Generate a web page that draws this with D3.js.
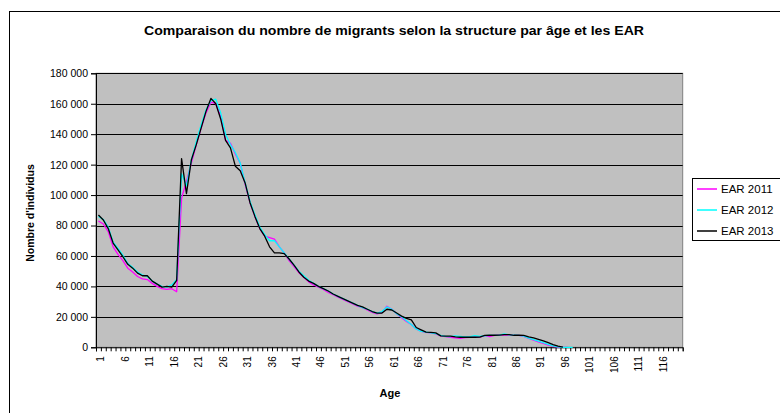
<!DOCTYPE html>
<html>
<head>
<meta charset="utf-8">
<script src="https://cdn.jsdelivr.net/npm/d3@7"></script>
<style>
  body { margin: 0; background: #fff; }
  svg { display: block; font-family: "Liberation Sans", Arial, sans-serif; }
</style>
</head>
<body>
<div id="chart"></div>
<script>
// ages 1..120 on the category axis
let ages = d3.range(1, 121);
let xLabels = d3.range(1, 117, 5);
let yTicks = d3.range(0, 180001, 20000);
let seriesNames = ["EAR 2011", "EAR 2012", "EAR 2013"];
let seriesColors = ["#ff00ff", "#00ffff", "#000000"];

// values, index 0 = age 1
let ear2011 = [83000, 81000, 76000, 66000, 61000, 57000, 52000, 49500, 46500, 45000,
    44500, 42000, 40000, 38500, 38000, 38500, 36500, 98000, 109000, 121000,
    133000, 144000, 154000, 161000, 160000, 152000, 136000, 134000, 127000, 121000,
    107000, 95000, 86000, 78000, 73000, 72000, 71000, 66000, 62000, 57000,
    53000, 49000, 46000, 43000, 41000, 39500, 38000, 36000, 34500, 33000,
    31500, 30000, 28500, 27000, 26000, 24500, 23000, 22000, 23000, 27000,
    25000, 22000, 19500, 17000, 15000, 12000, 10500, 9800, 9500, 8800,
    7500, 7000, 6600, 6200, 5800, 6400, 6600, 6900, 6700, 7600,
    7000, 7800, 8000, 8000, 8100, 7800, 7800, 7200, 5800, 4700,
    3600, 2500, 1500, 700, 200, 0, 0];
let ear2012 = [86000, 84000, 79000, 69000, 65000, 60500, 55000, 52500, 49500, 47500,
    46500, 43500, 41500, 40000, 39500, 41000, 44500, 114000, 106000, 123000,
    135000, 146000, 156000, 162000, 163000, 154000, 140000, 133000, 128000, 121000,
    108000, 96000, 87000, 79000, 74000, 70000, 70000, 66000, 62000, 58000,
    54000, 50000, 47000, 44000, 42000, 40000, 38500, 37000, 35000, 33500,
    32000, 30500, 29000, 27500, 26000, 25000, 23500, 22500, 23500, 26500,
    25000, 22000, 20000, 17500, 15000, 12000, 10500, 10000, 9500, 9000,
    7800, 7200, 7000, 7500, 7200, 6800, 7000, 7600, 7200, 7600,
    7800, 7800, 8000, 8800, 8200, 8000, 7800, 7300, 6000, 5000,
    4000, 3000, 2000, 1000, 300, 0, 0, 0];
let ear2013 = [86900, 83600, 78000, 68500, 64000, 59500, 54500, 52000, 48700, 47000,
    47000, 43500, 41500, 39500, 40000, 39500, 44000, 124000, 101000, 123000,
    133000, 144000, 155000, 163500, 160000, 150000, 136000, 131000, 119000, 116000,
    108000, 95000, 86000, 78000, 73000, 66000, 62000, 62000, 61500, 58000,
    54000, 49500, 46000, 43500, 42000, 40000, 38500, 37000, 35000, 33500,
    32000, 30500, 29000, 27500, 26500, 25000, 23500, 22500, 22500, 25000,
    24500, 22500, 20500, 19000, 18000, 13000, 11500, 10000, 9800, 9500,
    7500, 7400, 7300, 6800, 6600, 6600, 6600, 6600, 6700, 7800,
    7900, 7900, 8000, 8300, 8300, 7900, 7900, 7800, 6800, 6200,
    5200, 4200, 3000, 1800, 700, 100];

let allSeries = [ear2011, ear2012, ear2013];

let width = 780, height = 413;
let plot = {left: 96, right: 682.7, top: 73.3, bottom: 347.3};

let svg = d3.select("#chart").append("svg")
    .attr("width", width)
    .attr("height", height);

// outer chart frame
svg.append("rect")
    .attr("x", 9.5).attr("y", 11.5)
    .attr("width", 820).attr("height", 460)
    .attr("fill", "#fff")
    .attr("stroke", "#000");

let x = d3.scaleBand()
    .domain(ages)
    .range([plot.left, plot.right])
    .paddingInner(0).paddingOuter(0);

let xEdges = d3.scaleLinear()
    .domain([0.5, 120.5])
    .range([plot.left, plot.right]);

let y = d3.scaleLinear()
    .domain([0, 180000])
    .range([plot.bottom, plot.top]);

// plot background
svg.append("rect")
    .attr("x", plot.left).attr("y", plot.top)
    .attr("width", plot.right - plot.left)
    .attr("height", plot.bottom - plot.top)
    .attr("fill", "#c0c0c0")
    .attr("stroke", "#808080");

// gridlines
svg.append("g").selectAll("line")
    .data(yTicks.slice(1))
    .enter()
    .append("line")
    .attr("x1", plot.left).attr("x2", plot.right)
    .attr("y1", d => Math.round(y(d)) + 0.5)
    .attr("y2", d => Math.round(y(d)) + 0.5)
    .attr("stroke", "#000")
    .attr("stroke-width", 1);

let fmt = d => d3.format(",")(d).replace(/,/g, " ");

// y axis
let gy = svg.append("g")
    .attr("transform", "translate(" + plot.left + ",0)")
    .call(d3.axisLeft(y).tickValues(yTicks).tickSize(5).tickPadding(3).tickFormat(fmt));
gy.select(".domain").attr("stroke", "#000");
gy.selectAll("text").attr("font-size", "10.5px").attr("fill", "#000")
    .attr("font-family", "'Liberation Sans', Arial, sans-serif");

// x axis tick marks on category edges
let gx = svg.append("g")
    .attr("transform", "translate(0," + plot.bottom + ")")
    .call(d3.axisBottom(xEdges).tickValues(d3.range(0.5, 121, 1)).tickSize(4).tickFormat(""));
gx.select(".domain").attr("stroke", "#000");

// x labels, every 5 ages, rotated
let gxl = svg.append("g")
    .attr("transform", "translate(" + (x.bandwidth() / 2) + "," + plot.bottom + ")")
    .call(d3.axisBottom(x).tickValues(xLabels).tickSize(0).tickPadding(0));
gxl.select(".domain").remove();
gxl.selectAll("text")
    .attr("font-size", "10px")
    .attr("font-family", "'Liberation Sans', Arial, sans-serif")
    .attr("fill", "#000")
    .attr("text-anchor", "end")
    .attr("transform", "rotate(-90)")
    .attr("x", -9)
    .attr("y", 0)
    .attr("dy", "0.35em");

// lines
let line = d3.line()
    .x((d, i) => x(ages[i]) + x.bandwidth() / 2)
    .y(d => y(d));

svg.append("g").selectAll("path")
    .data(allSeries)
    .enter()
    .append("path")
    .attr("d", d => line(d))
    .attr("fill", "none")
    .attr("stroke", (d, i) => seriesColors[i])
    .attr("stroke-width", 1.3)
    .attr("stroke-linejoin", "round");

// title
svg.append("text")
    .attr("x", 394).attr("y", 35)
    .attr("text-anchor", "middle")
    .attr("font-size", "13px")
    .attr("font-weight", "bold")
    .attr("textLength", 500)
    .attr("lengthAdjust", "spacingAndGlyphs")
    .text("Comparaison du nombre de migrants selon la structure par âge et les EAR");

// axis titles
svg.append("text")
    .attr("transform", "translate(34,213) rotate(-90)")
    .attr("text-anchor", "middle")
    .attr("font-size", "10.5px")
    .attr("font-weight", "bold")
    .text("Nombre d'individus");

svg.append("text")
    .attr("x", 390).attr("y", 397)
    .attr("text-anchor", "middle")
    .attr("font-size", "11px")
    .attr("font-weight", "bold")
    .text("Age");

// legend
let legend = svg.append("g").attr("transform", "translate(692,178)");
legend.append("rect")
    .attr("x", 0.5).attr("y", 0.5)
    .attr("width", 120).attr("height", 62)
    .attr("fill", "#fff")
    .attr("stroke", "#000");

let items = legend.selectAll("g.item")
    .data(seriesNames)
    .enter()
    .append("g")
    .attr("class", "item")
    .attr("transform", (d, i) => "translate(0," + (11 + i * 21) + ")");
items.append("line")
    .attr("x1", 5).attr("x2", 25)
    .attr("y1", 0).attr("y2", 0)
    .attr("stroke", (d, i) => seriesColors[i])
    .attr("stroke-width", 1.5);
items.append("text")
    .attr("x", 29).attr("y", 0)
    .attr("dy", "0.35em")
    .attr("font-size", "11.5px")
    .text(d => d);
</script>
</body>
</html>
